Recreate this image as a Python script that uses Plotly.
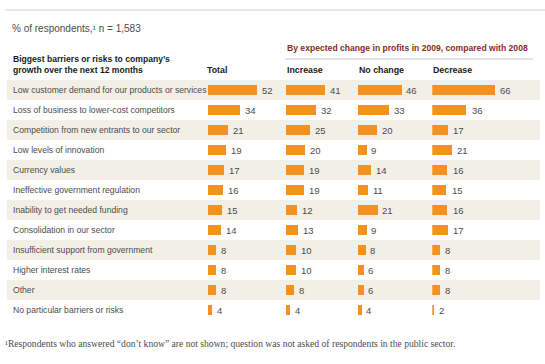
import plotly.graph_objects as go

W, H = 545, 364

categories = [
    "Low customer demand for our products or services",
    "Loss of business to lower-cost competitors",
    "Competition from new entrants to our sector",
    "Low levels of innovation",
    "Currency values",
    "Ineffective government regulation",
    "Inability to get needed funding",
    "Consolidation in our sector",
    "Insufficient support from government",
    "Higher interest rates",
    "Other",
    "No particular barriers or risks",
]
column_names = ["Total", "Increase", "No change", "Decrease"]
total = [52, 34, 21, 19, 17, 16, 15, 14, 8, 8, 8, 4]
increase = [41, 32, 25, 20, 19, 19, 12, 13, 10, 10, 8, 4]
no_change = [46, 33, 20, 9, 14, 11, 21, 9, 8, 6, 6, 4]
decrease = [66, 36, 17, 21, 16, 15, 16, 17, 8, 8, 8, 2]
series = [total, increase, no_change, decrease]

ORANGE = "#f39222"
BAND = "#f1efe6"
GRAY = "#4d4d4d"
FONT = "Liberation Sans, Arial, sans-serif"

def px(x):
    return x / W

def py(y):
    return 1 - y / H

col_start = [208, 286, 357.5, 432.3]
scale = 0.95  # px per unit
xmax = 70

fig = go.Figure()
idx = list(range(len(categories)))
axnames = ["x", "x2", "x3", "x4"]
for k, vals in enumerate(series):
    fig.add_trace(go.Bar(
        x=vals, y=idx, orientation="h", xaxis=axnames[k], yaxis="y",
        marker=dict(color=ORANGE, line=dict(width=0)), width=0.5,
        showlegend=False, hoverinfo="skip",
    ))
    for i, v in enumerate(vals):
        fig.add_annotation(
            x=v, y=i, xref=axnames[k], yref="y", text=str(v),
            xanchor="left", yanchor="middle", xshift=3, showarrow=False,
            font=dict(family=FONT, size=9.5, color=GRAY),
        )

layout_axes = {}
for k in range(4):
    key = "xaxis" if k == 0 else f"xaxis{k+1}"
    d0 = col_start[k]
    layout_axes[key] = dict(
        domain=[px(d0), px(d0 + xmax * scale)], range=[0, xmax],
        visible=False, fixedrange=True, anchor="y",
    )

fig.update_layout(
    width=W, height=H, margin=dict(l=0, r=0, t=0, b=0),
    paper_bgcolor="white", plot_bgcolor="rgba(0,0,0,0)",
    yaxis=dict(domain=[py(320), py(80)], range=[len(categories) - 0.5, -0.5],
               visible=False, fixedrange=True),
    bargap=0,
    **layout_axes,
)

# row bands and labels
for i, cat in enumerate(categories):
    if i % 2 == 0:
        fig.add_shape(type="rect", xref="paper", yref="y",
                      x0=px(7), x1=px(540), y0=i - 0.5, y1=i + 0.5,
                      fillcolor=BAND, line=dict(width=0), layer="below")
    fig.add_annotation(x=px(11), y=i, xref="paper", yref="y", text=cat,
                       xanchor="left", yanchor="middle", showarrow=False,
                       font=dict(family=FONT, size=8.6, color=GRAY))

# top rule
fig.add_shape(type="line", xref="paper", yref="paper", x0=px(5), x1=px(545),
              y0=py(10), y1=py(10), line=dict(color="#d0d0d0", width=1))
# rule under red header
fig.add_shape(type="line", xref="paper", yref="paper", x0=px(285), x1=px(533),
              y0=py(59), y1=py(59), line=dict(color="#cccccc", width=1))

fig.add_annotation(x=px(10), y=py(29), xref="paper", yref="paper",
                   text="% of respondents,¹ n = 1,583", xanchor="left", yanchor="middle",
                   showarrow=False, font=dict(family=FONT, size=10, color=GRAY))
fig.add_annotation(x=px(11), y=py(64.5), xref="paper", yref="paper",
                   text="<b>Biggest barriers or risks to company’s<br>growth over the next 12 months</b>",
                   xanchor="left", yanchor="middle", align="left", showarrow=False,
                   font=dict(family=FONT, size=8.6, color="#1a1a1a"))
fig.add_annotation(x=px(285), y=py(48), xref="paper", yref="paper",
                   text="<b>By expected change in profits in 2009, compared with 2008</b>",
                   xanchor="left", yanchor="middle", showarrow=False,
                   font=dict(family=FONT, size=8.6, color="#8b2b1e"))
for k, name in enumerate(column_names):
    fig.add_annotation(x=px(col_start[k] - 3 if k == 0 else col_start[k] - 1), y=py(70),
                       xref="paper", yref="paper", text=f"<b>{name}</b>",
                       xanchor="left", yanchor="middle", showarrow=False,
                       font=dict(family=FONT, size=8.8, color="#1a1a1a"))

fig.add_annotation(x=px(3), y=py(343), xref="paper", yref="paper",
                   text="¹Respondents who answered “don’t know” are not shown; question was not asked of respondents in the public sector.",
                   xanchor="left", yanchor="middle", showarrow=False,
                   font=dict(family="Liberation Serif, serif", size=9.6, color=GRAY))

fig.write_html("out.html", config={"displayModeBar": False},
               post_script="document.body.style.margin='0';document.body.style.overflow='hidden';")
